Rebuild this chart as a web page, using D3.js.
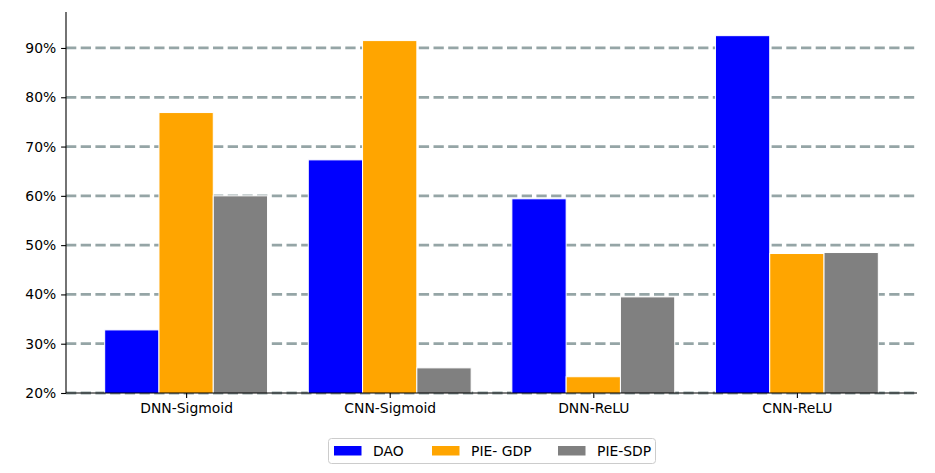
<!DOCTYPE html>
<html><head><meta charset="utf-8">
<script src="https://cdn.jsdelivr.net/npm/d3@7"></script>
<style>body{margin:0;background:#fff}svg{display:block;font-family:"DejaVu Sans",sans-serif}</style>
</head><body><svg id="c" width="935" height="473"></svg>
<script>
const categories = ["DNN-Sigmoid", "CNN-Sigmoid", "DNN-ReLU", "CNN-ReLU"];
const seriesNames = ["DAO", "PIE- GDP", "PIE-SDP"];
const seriesColors = ["#0000ff", "#ffa500", "#808080"];
const dao = [32.8, 67.3, 59.4, 92.5];
const pieGdp = [76.9, 91.5, 23.3, 48.3];
const pieSdp = [60.0, 25.1, 39.5, 48.5];
const yTicks = [20, 30, 40, 50, 60, 70, 80, 90];
const series = [dao, pieGdp, pieSdp];

const svg = d3.select("#c");
const L = 66, R = 917, T = 12, B = 393;
const barW = 0.8 / 3;
const x = d3.scaleLinear().domain([-0.59, categories.length - 1 + 0.59]).range([L, R]);
const y = d3.scaleLinear().domain([20, 97.3]).range([B, T]);

// grid
svg.append("g").selectAll("line").data(yTicks).join("line")
  .attr("x1", L).attr("x2", R).attr("y1", d => y(d)).attr("y2", d => y(d))
  .attr("stroke", "#95a5a6").attr("stroke-width", 2.78).attr("stroke-dasharray", "10.3,4.4");

// bars
const clip = svg.append("clipPath").attr("id", "pc").append("rect")
  .attr("x", L).attr("y", T).attr("width", R - L).attr("height", B - T);
const gb = svg.append("g").attr("clip-path", "url(#pc)");
series.forEach((vals, si) => {
  gb.append("g").selectAll("rect").data(vals).join("rect")
    .attr("x", (d, i) => x(i + (si - 1) * barW - barW / 2))
    .attr("width", x(barW) - x(0))
    .attr("y", d => y(d))
    .attr("height", d => y(20) - y(d) + 2)
    .attr("fill", seriesColors[si])
    .attr("stroke", "#fff").attr("stroke-width", 1);
});

// axes
const yAxis = d3.axisLeft(y).tickValues(yTicks).tickFormat(d => d + "%").tickSize(4.9).tickPadding(4.9);
const gy = svg.append("g").attr("transform", `translate(${L},0)`).call(yAxis);
const xAxis = d3.axisBottom(x).tickValues(categories.map((c, i) => i)).tickFormat(i => categories[i]).tickSize(4.9).tickPadding(4.9);
const gx = svg.append("g").attr("transform", `translate(0,${B})`).call(xAxis);
[gx, gy].forEach(g => {
  g.select(".domain").attr("stroke", "#000").attr("stroke-width", 1.1);
  g.selectAll(".tick line").attr("stroke", "#000").attr("stroke-width", 1.1);
  g.selectAll(".tick text").attr("font-size", 13.9).attr("fill", "#000").attr("font-family", "DejaVu Sans");
});
gy.select(".domain").attr("d", `M0,${T}V${B}`);
gx.select(".domain").attr("d", `M${L},0H${R}`);

// legend
const lg = svg.append("g");
lg.append("rect").attr("x", 328.5).attr("y", 438.5).attr("width", 327).attr("height", 25)
  .attr("rx", 3).attr("fill", "#fff").attr("fill-opacity", 0.8).attr("stroke", "#cccccc").attr("stroke-width", 1);
const itemX = [334, 432, 558];
seriesNames.forEach((n, i) => {
  lg.append("rect").attr("x", itemX[i]).attr("y", 446).attr("width", 27.5).attr("height", 9.5).attr("fill", seriesColors[i]);
  lg.append("text").attr("x", itemX[i] + 39).attr("y", 455.5).attr("font-size", 13.9).attr("fill", "#000").text(n);
});
</script></body></html>
